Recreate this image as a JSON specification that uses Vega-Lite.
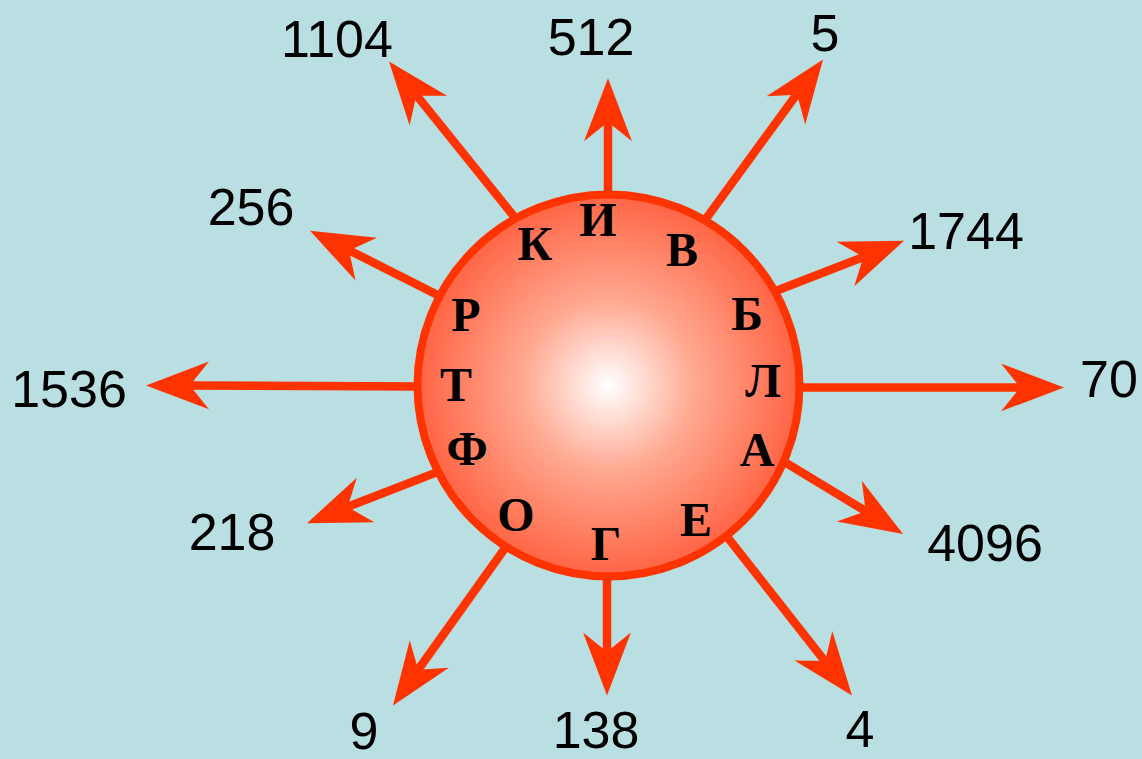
{
  "$schema": "https://vega.github.io/schema/vega-lite/v6.json",
  "width": 1142,
  "height": 759,
  "autosize": {"type": "fit", "contains": "padding"},
  "padding": 0,
  "background": "#badfe2",
  "config": {"view": {"stroke": null}},
  "datasets": {
    "arrows": [
      {"label": "1104", "x0": 520, "y0": 226, "x1": 414, "y1": 93, "tipx": 389, "tipy": 62, "angle": 321.4, "lx": 337, "ly": 41},
      {"label": "512", "x0": 608, "y0": 205, "x1": 608, "y1": 119, "tipx": 608, "tipy": 79, "angle": 0, "lx": 591, "ly": 39},
      {"label": "5", "x0": 700, "y0": 229, "x1": 799, "y1": 92, "tipx": 823, "tipy": 60, "angle": 36.1, "lx": 825, "ly": 35},
      {"label": "1744", "x0": 770, "y0": 296, "x1": 867, "y1": 258, "tipx": 904, "tipy": 243, "angle": 68.4, "lx": 966, "ly": 235},
      {"label": "70", "x0": 795, "y0": 391, "x1": 1024, "y1": 391, "tipx": 1064, "tipy": 391, "angle": 90, "lx": 1109, "ly": 385},
      {"label": "4096", "x0": 779, "y0": 463, "x1": 869, "y1": 518, "tipx": 903, "tipy": 539, "angle": 121.5, "lx": 985, "ly": 550},
      {"label": "4", "x0": 725, "y0": 539, "x1": 827, "y1": 670, "tipx": 852, "tipy": 702, "angle": 142.2, "lx": 860, "ly": 738},
      {"label": "138", "x0": 607, "y0": 575, "x1": 607, "y1": 662, "tipx": 607, "tipy": 702, "angle": 180, "lx": 596, "ly": 739},
      {"label": "9", "x0": 508, "y0": 549, "x1": 416, "y1": 679, "tipx": 393, "tipy": 712, "angle": 215.2, "lx": 364, "ly": 740},
      {"label": "218", "x0": 441, "y0": 475, "x1": 344, "y1": 513, "tipx": 307, "tipy": 528, "angle": 248.4, "lx": 232, "ly": 539},
      {"label": "1536", "x0": 422, "y0": 390, "x1": 186, "y1": 389, "tipx": 146, "tipy": 389, "angle": 270, "lx": 69, "ly": 395},
      {"label": "256", "x0": 444, "y0": 301, "x1": 346, "y1": 251, "tipx": 310, "tipy": 233, "angle": 296.7, "lx": 251, "ly": 211}
    ],
    "sun": [{"x": 608.5, "y": 389}],
    "letters": [
      {"letter": "К", "x": 535, "y": 248},
      {"letter": "И", "x": 598, "y": 224},
      {"letter": "В", "x": 682, "y": 254},
      {"letter": "Р", "x": 466, "y": 320},
      {"letter": "Б", "x": 747, "y": 319},
      {"letter": "Т", "x": 456, "y": 391},
      {"letter": "Л", "x": 763, "y": 387},
      {"letter": "Ф", "x": 467, "y": 455},
      {"letter": "А", "x": 757, "y": 456},
      {"letter": "О", "x": 516, "y": 522},
      {"letter": "Г", "x": 606, "y": 551},
      {"letter": "Е", "x": 696, "y": 527}
    ]
  },
  "layer": [
    {
      "data": {"name": "arrows"},
      "mark": {"type": "rule", "color": "#ff3300", "strokeWidth": 8.5},
      "encoding": {
        "x": {"field": "x0", "type": "quantitative", "scale": {"domain": [0, 1142], "nice": false, "zero": false}, "axis": null},
        "y": {"field": "y0", "type": "quantitative", "scale": {"domain": [0, 759], "nice": false, "zero": false, "reverse": true}, "axis": null},
        "x2": {"field": "x1"},
        "y2": {"field": "y1"}
      }
    },
    {
      "data": {"name": "arrows"},
      "mark": {"type": "point", "shape": "M0,0 L0.76,2 L0,1.39 L-0.76,2 Z", "size": 3969, "filled": true, "color": "#ff3300", "opacity": 1, "strokeWidth": 0},
      "encoding": {
        "x": {"field": "tipx", "type": "quantitative", "scale": {"domain": [0, 1142], "nice": false, "zero": false}, "axis": null},
        "y": {"field": "tipy", "type": "quantitative", "scale": {"domain": [0, 759], "nice": false, "zero": false, "reverse": true}, "axis": null},
        "angle": {"field": "angle", "type": "quantitative", "scale": null}
      }
    },
    {
      "data": {"name": "sun"},
      "mark": {
        "type": "point",
        "shape": "circle",
        "size": 145924,
        "filled": true,
        "opacity": 1,
        "fill": {
          "gradient": "radial",
          "x1": 0.5, "y1": 0.5, "r1": 0,
          "x2": 0.5, "y2": 0.5, "r2": 0.5,
          "stops": [
            {"offset": 0, "color": "#ffffff"},
            {"offset": 0.45, "color": "#ffa890"},
            {"offset": 1, "color": "#ff6444"}
          ]
        },
        "stroke": "#ff3300",
        "strokeWidth": 8
      },
      "encoding": {
        "x": {"field": "x", "type": "quantitative", "scale": {"domain": [0, 1142], "nice": false, "zero": false}, "axis": null},
        "y": {"field": "y", "type": "quantitative", "scale": {"domain": [0, 759], "nice": false, "zero": false, "reverse": true}, "axis": null}
      }
    },
    {
      "data": {"name": "letters"},
      "mark": {"type": "text", "font": "Liberation Serif", "fontWeight": "bold", "fontSize": 48, "color": "#000000", "align": "center", "baseline": "middle"},
      "encoding": {
        "x": {"field": "x", "type": "quantitative", "scale": {"domain": [0, 1142], "nice": false, "zero": false}, "axis": null},
        "y": {"field": "y", "type": "quantitative", "scale": {"domain": [0, 759], "nice": false, "zero": false, "reverse": true}, "axis": null},
        "text": {"field": "letter"}
      }
    },
    {
      "data": {"name": "arrows"},
      "mark": {"type": "text", "font": "Liberation Sans", "fontSize": 52, "color": "#000000", "align": "center", "baseline": "middle"},
      "encoding": {
        "x": {"field": "lx", "type": "quantitative", "scale": {"domain": [0, 1142], "nice": false, "zero": false}, "axis": null},
        "y": {"field": "ly", "type": "quantitative", "scale": {"domain": [0, 759], "nice": false, "zero": false, "reverse": true}, "axis": null},
        "text": {"field": "label"}
      }
    }
  ]
}
